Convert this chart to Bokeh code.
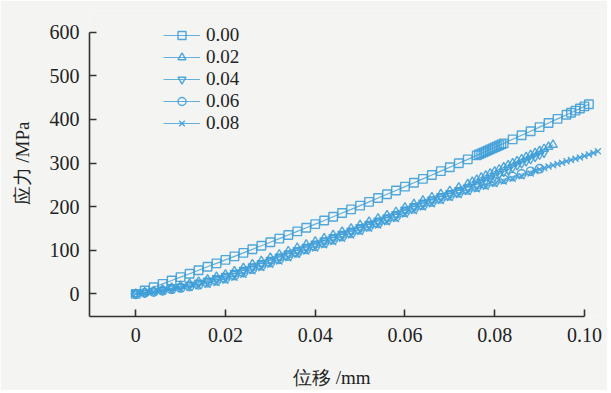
import numpy as np
from bokeh.plotting import figure
from bokeh.models import FixedTicker, Legend, LegendItem, LinearAxis
from bokeh.embed import file_html
from bokeh.resources import INLINE

# ---- data ----
labels = ["0.00", "0.02", "0.04", "0.06", "0.08"]
markers = ["square", "triangle", "inverted_triangle", "circle", "x"]

# 0.00 : main samples every 0.002 mm from 0 to 0.100
sq_x = np.round(np.arange(0, 0.1001, 0.002), 4)
sq_y = [0, 7.6, 15.3, 23.0, 30.7, 38.5, 46.3, 54.2, 62.1, 70.0, 78, 86.0, 94.1, 102.2,
        110.3, 118.5, 126.7, 135.0, 143.3, 151.6, 160, 168.4, 176.9, 185.4, 193.9, 202.5,
        211.1, 219.8, 228.5, 237.2, 246, 254.8, 263.7, 272.6, 281.5, 290.5, 299.5, 308.6,
        317.7, 326.8, 336, 345.2, 354.5, 363.8, 373.1, 382.5, 391.9, 401.4, 410.9, 420.4, 430]
sq_dx = [0.0765, 0.077, 0.0775, 0.0785, 0.079, 0.0795, 0.0805, 0.081, 0.0815, 0.097, 0.099, 0.101]
sq_dy = [320.0, 322.2, 324.5, 329.1, 331.4, 333.7, 338.3, 340.6, 342.9, 415.6, 425.2, 434.8]

# 0.02 : main every 0.002 mm 0..0.074, dense every 0.001 mm 0.075..0.093
tri_x = np.round(np.arange(0, 0.0741, 0.002), 4)
tri_y = [0, 3.5, 6.5, 10, 14, 18.5, 23, 28, 33, 39, 44.5, 52, 59.5, 68, 75.5, 83, 90.5, 98,
         105.5, 113, 120, 127.5, 135, 142.5, 150, 158, 165.5, 173, 180.5, 188, 198, 206,
         214, 221.5, 229, 236, 244, 252]
tri_dx = np.round(np.arange(0.075, 0.0931, 0.001), 4)
tri_dy = [257, 262, 266.7, 271.4, 276.1, 280.8, 285.5, 290.2, 294.9, 299.6, 304.3, 309,
          313.7, 318.4, 323.1, 327.8, 332.5, 337.2, 342]

# 0.04 : main every 0.002 mm 0..0.076, dense every 0.001 mm 0.077..0.091
inv_x = np.round(np.arange(0, 0.0761, 0.002), 4)
inv_y = [0, 2.8, 5.5, 9, 12.5, 16.5, 21, 26, 30.5, 36, 41, 48, 55, 63, 70.5, 78, 85.5, 93,
         100.5, 108, 115, 122.5, 130, 137.5, 145, 153, 160.5, 168, 175.5, 183, 193, 201,
         209, 216.5, 224, 231, 238, 244.5, 251]
inv_dx = np.round(np.arange(0.077, 0.0911, 0.001), 4)
inv_dy = [255, 260, 265, 270, 275, 280, 285, 290, 295, 299.5, 304.5, 309.5, 314.5, 319.5, 324]

# 0.06 : every 0.002 mm 0..0.090
cir_x = np.round(np.arange(0, 0.0901, 0.002), 4)
cir_y = [0, 2.2, 4.5, 7, 10.5, 13.5, 17, 21, 25.5, 30, 35, 42, 49, 57, 64.5, 72, 79.5, 87,
         94.5, 102, 109, 116.5, 124, 131.5, 139, 147, 154.5, 162, 169.5, 177, 187, 195,
         203, 210.5, 218, 225, 232, 238.5, 245, 251, 257, 263, 269, 275, 281, 287]

# 0.08 : main every 0.002 mm 0..0.088, dense every 0.001 mm 0.089..0.103
xx_x = np.round(np.arange(0, 0.0881, 0.002), 4)
xx_y = [0, 1.8, 3.5, 5.5, 8.5, 11, 14, 17.5, 21, 25, 30, 37, 44, 52, 59.5, 67, 74.5, 82,
        89.5, 97, 104, 111.5, 119, 126.5, 134, 142, 149.5, 157, 164.5, 172, 182, 190, 198,
        205.5, 213, 220, 227, 233.5, 240, 246, 252, 258, 264, 270, 276]
xx_dx = np.round(np.arange(0.089, 0.1031, 0.001), 4)
xx_dy = [282, 285.5, 289, 292, 295, 298, 301, 304, 307, 310, 313, 316, 319.5, 323, 327]

x_ticks = [0, 0.02, 0.04, 0.06, 0.08, 0.10]
x_tick_labels = ["0", "0.02", "0.04", "0.06", "0.08", "0.10"]
y_ticks = [0, 100, 200, 300, 400, 500, 600]
x_title = "位移 /mm"
y_title = "应力 /MPa"


def merge(x1, y1, x2=(), y2=()):
    xs = list(x1) + list(x2)
    ys = list(y1) + list(y2)
    order = np.argsort(xs, kind="stable")
    return [xs[i] for i in order], [ys[i] for i in order]


series = [
    merge(sq_x, sq_y, sq_dx, sq_dy),
    merge(tri_x, tri_y, tri_dx, tri_dy),
    merge(inv_x, inv_y, inv_dx, inv_dy),
    merge(cir_x, cir_y),
    merge(xx_x, xx_y, xx_dx, xx_dy),
]

# ---- figure ----
BG = "#f4f5f3"
BLUE = "#3f9fd8"
AX = "#333333"
TXT = "#222222"
FONT = "Liberation Serif"

p = figure(width=607, height=390, output_backend="svg", toolbar_location=None,
           x_range=(-0.0103, 0.1038), y_range=(-51.9, 650),
           min_border_left=89, min_border_right=6, min_border_top=10, min_border_bottom=72)
p.background_fill_color = BG
p.border_fill_color = BG
p.outline_line_color = None
p.grid.visible = False

for ax in (p.xaxis[0], p.yaxis[0]):
    ax.axis_line_color = AX
    ax.axis_line_width = 1.6
    ax.major_tick_line_color = AX
    ax.major_tick_line_width = 1.6
    ax.major_tick_in = 7
    ax.major_tick_out = 0
    ax.minor_tick_line_color = None
    ax.major_label_text_font = FONT
    ax.major_label_text_font_size = "20px"
    ax.major_label_text_color = TXT

p.xaxis.ticker = FixedTicker(ticks=x_ticks)
p.xaxis.major_label_overrides = {t: s for t, s in zip(x_ticks, x_tick_labels)}
p.xaxis.bounds = (-0.0103, 0.10)
p.xaxis.major_label_standoff = 11

p.yaxis.ticker = FixedTicker(ticks=y_ticks)
p.yaxis.bounds = (-51.9, 600)
p.yaxis.major_label_standoff = 10
p.yaxis.axis_label = y_title
p.yaxis.axis_label_text_font = FONT
p.yaxis.axis_label_text_font_size = "19px"
p.yaxis.axis_label_text_font_style = "normal"
p.yaxis.axis_label_text_color = TXT
p.yaxis.axis_label_standoff = 14

# x-axis title, placed under the centre of the 0..0.10 axis span
title_pos = 0.0437
title_axis = LinearAxis(ticker=FixedTicker(ticks=[title_pos]),
                        major_label_overrides={title_pos: x_title},
                        axis_line_color=None, major_tick_line_color=None,
                        minor_tick_line_color=None,
                        major_label_standoff=16,
                        major_label_text_font=FONT, major_label_text_font_size="19px",
                        major_label_text_color=TXT)
p.add_layout(title_axis, "below")

items = []
for (xs, ys), lab, mk in zip(series, labels, markers):
    ln = p.line(xs, ys, line_color=BLUE, line_width=1.2, line_alpha=0.8)
    sc = p.scatter(xs, ys, marker=mk, size=8.5, line_color=BLUE, line_width=1.4,
                   fill_color=None, line_alpha=0.9)
    items.append(LegendItem(label=lab, renderers=[ln, sc]))

legend = Legend(items=items, location=(74, 182), orientation="vertical",
                background_fill_alpha=0, border_line_color=None,
                label_text_font=FONT, label_text_font_size="19px",
                label_text_color=TXT,
                glyph_width=37, glyph_height=20, label_height=20, label_standoff=6,
                spacing=0, padding=0, margin=0)
p.add_layout(legend)

open("out.html", "w").write(file_html(p, INLINE))
